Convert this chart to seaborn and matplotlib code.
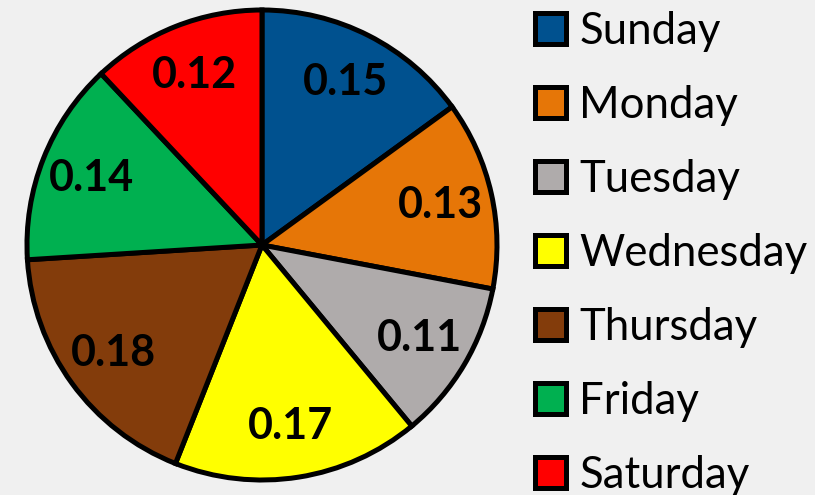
#!/usr/bin/env python3

import matplotlib
matplotlib.use("Agg")
import matplotlib.pyplot as plt
import seaborn as sns

days = ["Sunday", "Monday", "Tuesday", "Wednesday", "Thursday", "Friday", "Saturday"]
shares = [0.15, 0.13, 0.11, 0.17, 0.18, 0.14, 0.12]
day_colors = ["#00518F", "#E67607", "#AFABAB", "#FFFF00", "#833C0B", "#00B050", "#FF0000"]

BG = "#F0F0F0"

sns.set_style("white", {"figure.facecolor": BG, "axes.facecolor": BG, "text.color": "black"})
plt.rcParams["font.family"] = ["Lato", "DejaVu Sans"]

palette = sns.color_palette(day_colors)

fig = plt.figure(figsize=(8.15, 4.95), dpi=100)
ax = fig.add_axes([0.0331, 0.0303, 0.5767, 0.9495])

wedges, _, autotexts = ax.pie(
    shares,
    colors=palette,
    startangle=90,
    counterclock=False,
    radius=1,
    autopct=lambda p: "{:.2f}".format(p / 100),
    pctdistance=0.78,
    wedgeprops={"edgecolor": "black", "linewidth": 3.6},
    textprops={"fontsize": 31, "fontweight": "bold", "color": "black"},
)
ax.set_xlim(-1.0, 1.0)
ax.set_ylim(-1.0, 1.0)
ax.set_aspect("equal")
ax.axis("off")
for w in wedges:
    w.set_clip_on(False)

leg = fig.legend(
    wedges,
    days,
    loc="upper left",
    bbox_to_anchor=(0.656, 0.978),
    frameon=False,
    fontsize=31.5,
    handlelength=0.72,
    handleheight=0.72,
    handletextpad=0.3,
    labelspacing=0.755,
    borderpad=0,
    borderaxespad=0,
)
for t in leg.get_texts():
    t.set_color("black")

plt.savefig("out.png", dpi=100, facecolor=BG)
